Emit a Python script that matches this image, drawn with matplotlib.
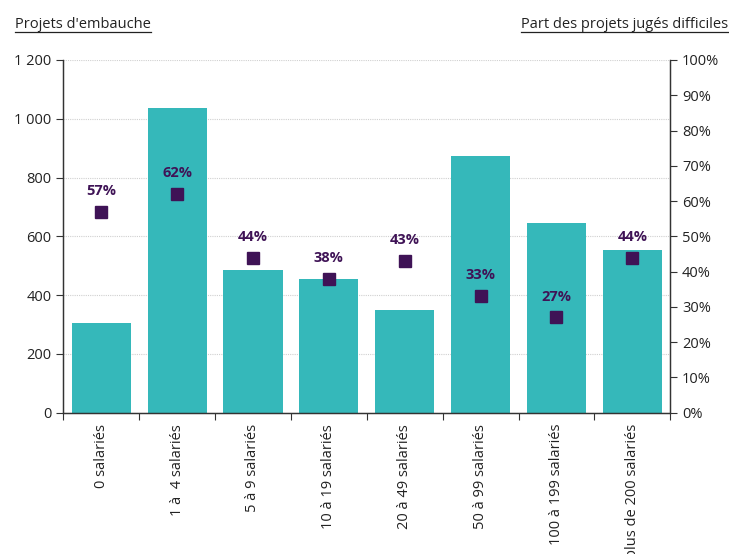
import matplotlib
matplotlib.use("Agg")
import matplotlib.pyplot as plt
from matplotlib.lines import Line2D
from matplotlib.ticker import FuncFormatter, MultipleLocator

plt.rcParams['font.family'] = ['Open Sans', 'DejaVu Sans']

categories = ["0 salariés", "1 à  4 salariés", "5 à 9 salariés", "10 à 19 salariés",
              "20 à 49 salariés", "50 à 99 salariés", "100 à 199 salariés",
              "plus de 200 salariés"]
projets = [306, 1038, 485, 455, 350, 872, 646, 553]
part_difficile = [57, 62, 44, 38, 43, 33, 27, 44]

teal = "#35B8BA"
purple = "#3F1356"
txt = "#222222"

fig = plt.figure(figsize=(7.29, 5.54), dpi=100)
ax = fig.add_axes([0.0868, 0.255, 0.9195 - 0.0868, 0.8917 - 0.255])
ax2 = ax.twinx()

x = range(len(categories))
ax.bar(x, projets, width=0.78, color=teal, zorder=2)
ax.set_xlim(-0.5, len(categories) - 0.5)
ax.set_ylim(0, 1200)
ax.yaxis.set_major_locator(MultipleLocator(200))
ax.yaxis.set_major_formatter(FuncFormatter(lambda v, p: f"{int(v):,}".replace(",", " ")))
ax.grid(axis="y", color="#d0d0d0", linestyle=(0, (1, 1)), linewidth=0.8, zorder=0)
ax.set_axisbelow(True)

ax.set_xticks([i - 0.5 for i in range(len(categories) + 1)])
ax.set_xticklabels([])
ax.set_xticks(list(x), minor=True)
ax.set_xticklabels(categories, minor=True, rotation=90, fontsize=10.5, color=txt)
ax.tick_params(axis="x", which="minor", length=0, pad=8)
ax.tick_params(axis="x", which="major", length=5, color="#333333")
ax.tick_params(axis="y", labelsize=10.5, labelcolor=txt, length=5, color="#333333")

ax2.plot(list(x), part_difficile, linestyle="none", marker="s", markersize=8.5,
         color=purple, zorder=3)
for i, v in enumerate(part_difficile):
    ax2.annotate(f"{v}%", (i, v), xytext=(0, 10), textcoords="offset points",
                 ha="center", va="bottom", fontsize=10.5, fontweight="bold", color=purple)
ax2.set_ylim(0, 100)
ax2.yaxis.set_major_locator(MultipleLocator(10))
ax2.yaxis.set_major_formatter(FuncFormatter(lambda v, p: f"{int(v)}%"))
ax2.tick_params(axis="y", labelsize=10.5, labelcolor=txt, length=5, color="#333333")

for a in (ax, ax2):
    a.spines["top"].set_visible(False)
    for s in ("left", "right", "bottom"):
        a.spines[s].set_color("#333333")
        a.spines[s].set_linewidth(0.9)

t1 = fig.text(15 / 729, 1 - 28 / 554, "Projets d'embauche", fontsize=10.5, color=txt,
              ha="left", va="baseline")
t2 = fig.text(728 / 729, 1 - 28 / 554, "Part des projets jugés difficiles", fontsize=10.5,
              color=txt, ha="right", va="baseline")
fig.canvas.draw()
r = fig.canvas.get_renderer()
for t in (t1, t2):
    bb = t.get_window_extent(renderer=r).transformed(fig.transFigure.inverted())
    yline = 1 - 32 / 554
    fig.add_artist(Line2D([bb.x0, bb.x1], [yline, yline], color=txt, linewidth=0.9,
                          transform=fig.transFigure))

fig.savefig("out.png", dpi=100)
